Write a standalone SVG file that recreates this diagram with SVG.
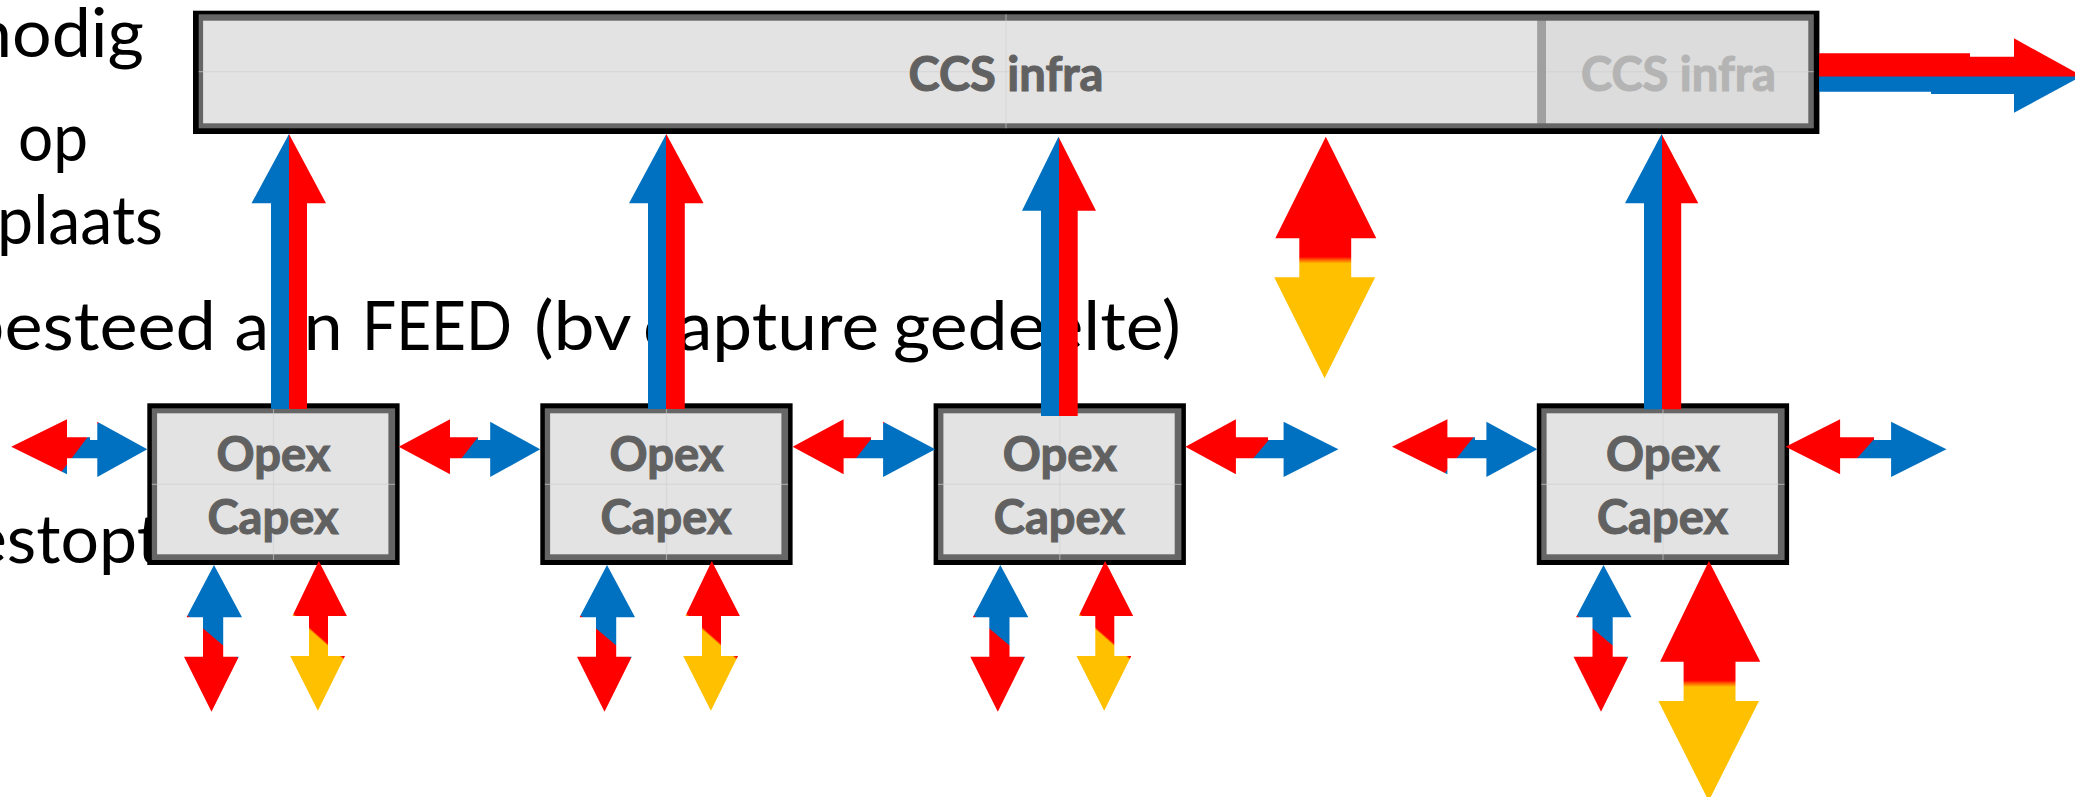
<svg xmlns="http://www.w3.org/2000/svg" xmlns:xlink="http://www.w3.org/1999/xlink" width="2075" height="797" viewBox="0 0 2075 797">
<style>
.body{font-family:Lato,"Open Sans","Liberation Sans",sans-serif;font-size:67px;fill:#000}
.lbl{font-family:Lato,"Open Sans","Liberation Sans",sans-serif;font-size:47px;font-weight:700;fill:#616161;stroke:#616161;stroke-width:1.1;text-anchor:middle}
.lbl2{fill:#b4b4b4;stroke:#b4b4b4}
.blk{fill:#000}
.gry{fill:#666}
.fil{fill:#e3e3e3}
.grid{stroke:#d0d0d0;stroke-opacity:.55;stroke-width:1.2;fill:none}
</style>
<defs>
<linearGradient id="gBR" x1="0" y1="0" x2="1" y2="0">
<stop offset="0.5" stop-color="#0070C0"/><stop offset="0.5" stop-color="#FF0000"/>
</linearGradient>
<linearGradient id="gRY" x1="0" y1="0" x2="0" y2="1">
<stop offset="0.497" stop-color="#FF0000"/><stop offset="0.51" stop-color="#FF6000"/><stop offset="0.525" stop-color="#FFC000"/>
</linearGradient>
<linearGradient id="gH" x1="0.478" y1="0.493" x2="0.522" y2="0.507">
<stop offset="0.4" stop-color="#FF0000"/><stop offset="0.6" stop-color="#0070C0"/>
</linearGradient>
<linearGradient id="gVL" x1="0.493" y1="0.511" x2="0.507" y2="0.469">
<stop offset="0.4" stop-color="#FF0000"/><stop offset="0.6" stop-color="#0070C0"/>
</linearGradient>
<linearGradient id="gVR" x1="0.493" y1="0.526" x2="0.507" y2="0.484">
<stop offset="0.3" stop-color="#FFC000"/><stop offset="0.7" stop-color="#FF0000"/>
</linearGradient>
<polygon id="vL" points="-59.5,565 -31.5,617.3 -50.3,617.3 -50.3,656.7 -34.7,656.7 -62,711.7 -89.5,656.7 -70.5,656.7 -70.5,617.3 -87,617.3"/>
<polygon id="vR" points="45.3,561 73.4,616 54.5,616 54.5,656 71.5,656 44.4,710.7 16.7,656 35.5,656 35.5,616 18.9,616"/>
</defs>

<g id="text">
<text class="body" x="-27" y="57" textLength="171" lengthAdjust="spacingAndGlyphs">nodig</text>
<text class="body" x="18" y="161" textLength="70" lengthAdjust="spacingAndGlyphs">op</text>
<text class="body" x="-3" y="244" textLength="166" lengthAdjust="spacingAndGlyphs">plaats</text>
<text class="body" y="350"><tspan x="-36" textLength="252" lengthAdjust="spacingAndGlyphs">besteed</tspan> <tspan x="234.5" textLength="108" lengthAdjust="spacingAndGlyphs">aan</tspan> <tspan x="362" textLength="150" lengthAdjust="spacingAndGlyphs">FEED</tspan> <tspan x="534" textLength="96" lengthAdjust="spacingAndGlyphs">(bv</tspan> <tspan x="643" textLength="236" lengthAdjust="spacingAndGlyphs">capture</tspan> <tspan x="893" textLength="288" lengthAdjust="spacingAndGlyphs">gedeelte)</tspan></text>
<text class="body" x="-29" y="563" textLength="190" lengthAdjust="spacingAndGlyphs">estopt</text>
</g>

<g id="ccs-infra">
<rect class="blk" x="193" y="10.7" width="1626.4" height="123.3"/>
<rect class="gry" x="198.7" y="14.3" width="1615.1" height="114"/>
<rect class="fil" x="203.1" y="20.7" width="1334.5" height="102.6"/>
<line class="grid" x1="198.7" y1="71.7" x2="1537.6" y2="71.7"/>
<line class="grid" x1="1006" y1="14.3" x2="1006" y2="128.3"/>
<text class="lbl" x="1006" y="90.5" textLength="195" lengthAdjust="spacingAndGlyphs">CCS infra</text>
</g>

<g id="ccs-infra-ext">
<rect x="1546" y="20.7" width="262.3" height="102.6" fill="#dcdcdc"/>
<rect x="1537.6" y="20.7" width="8.4" height="102.6" fill="#a0a0a0"/>
<line class="grid" x1="1546" y1="71.7" x2="1813.8" y2="71.7"/>
<text class="lbl lbl2" x="1678.5" y="90.5" textLength="195" lengthAdjust="spacingAndGlyphs">CCS infra</text>
</g>

<g id="node-1">
<rect class="blk" x="147.3" y="403.3" width="252.3" height="161.7"/>
<rect class="gry" x="151.8" y="408.3" width="243.3" height="151.7"/>
<rect class="fil" x="157.1" y="413.3" width="231.3" height="141"/>
<line class="grid" x1="151.8" y1="484.3" x2="395.1" y2="484.3"/>
<line class="grid" x1="273.5" y1="408.3" x2="273.5" y2="560"/>
<text class="lbl" x="273.5" y="470.5" textLength="114" lengthAdjust="spacingAndGlyphs">Opex</text>
<text class="lbl" x="273" y="534" textLength="131" lengthAdjust="spacingAndGlyphs">Capex</text>
</g>

<g id="node-2">
<rect class="blk" x="540.3" y="403.3" width="252.3" height="161.7"/>
<rect class="gry" x="544.8" y="408.3" width="243.3" height="151.7"/>
<rect class="fil" x="550.1" y="413.3" width="231.3" height="141"/>
<line class="grid" x1="544.8" y1="484.3" x2="788.1" y2="484.3"/>
<line class="grid" x1="666.5" y1="408.3" x2="666.5" y2="560"/>
<text class="lbl" x="666.5" y="470.5" textLength="114" lengthAdjust="spacingAndGlyphs">Opex</text>
<text class="lbl" x="666" y="534" textLength="131" lengthAdjust="spacingAndGlyphs">Capex</text>
</g>

<g id="node-3">
<rect class="blk" x="933.6" y="403.3" width="252.3" height="161.7"/>
<rect class="gry" x="938.1" y="408.3" width="243.3" height="151.7"/>
<rect class="fil" x="943.4" y="413.3" width="231.3" height="141"/>
<line class="grid" x1="938.1" y1="484.3" x2="1181.4" y2="484.3"/>
<line class="grid" x1="1059.8" y1="408.3" x2="1059.8" y2="560"/>
<text class="lbl" x="1059.8" y="470.5" textLength="114" lengthAdjust="spacingAndGlyphs">Opex</text>
<text class="lbl" x="1059.3" y="534" textLength="131" lengthAdjust="spacingAndGlyphs">Capex</text>
</g>

<g id="node-4">
<rect class="blk" x="1536.8" y="403.3" width="252.3" height="161.7"/>
<rect class="gry" x="1541.3" y="408.3" width="243.3" height="151.7"/>
<rect class="fil" x="1546.6" y="413.3" width="231.3" height="141"/>
<line class="grid" x1="1541.3" y1="484.3" x2="1784.6" y2="484.3"/>
<line class="grid" x1="1663" y1="408.3" x2="1663" y2="560"/>
<text class="lbl" x="1663" y="470.5" textLength="114" lengthAdjust="spacingAndGlyphs">Opex</text>
<text class="lbl" x="1662.5" y="534" textLength="131" lengthAdjust="spacingAndGlyphs">Capex</text>
</g>

<g id="connectors">
<polygon fill="url(#gBR)" points="289,134 326,203.3 307,203.3 307,409 271,409 271,203.3 251.5,203.3"/>
<polygon fill="url(#gBR)" points="666.3,134 703.6,203.3 684.8,203.3 684.8,409 648,409 648,203.3 629,203.3"/>
<polygon fill="url(#gBR)" points="1058.5,136.7 1096,210.7 1077.7,210.7 1077.7,416 1041,416 1041,210.7 1022,210.7"/>
<polygon fill="url(#gBR)" points="1661.6,134 1698.3,203.3 1681.2,203.3 1681.2,409.3 1644,409.3 1644,203.3 1625,203.3"/>
<g id="exit-arrow">
<polygon fill="#0070C0" points="1819,76 2082,76 2014,112.7 2014,94 1931,94 1931,91.7 1819,91.7"/>
<polygon fill="#FF0000" points="1819,53.3 1970,53.3 1970,56.7 2014,56.7 2014,38.3 2082,76 2081,76.6 1819,76.6"/>
</g>
<polygon fill="url(#gRY)" points="1325.8,136.7 1376.3,238.3 1351.2,238.3 1351.2,277.3 1375.2,277.3 1324.6,378.3 1274.2,277.3 1299.3,277.3 1299.3,238.3 1275.3,238.3"/>
<polygon fill="url(#gH)" points="11.2,446.7 67,419.3 67,437.3 90,437.3 90,440 97.3,440 97.3,421.7 147.3,449.3 97.3,477 97.3,458.3 67,458.3 67,474.3"/>
<polygon fill="url(#gH)" points="398.7,446.7 450,419.3 450,437.3 478,437.3 478,440 490.2,440 490.2,421.7 540.2,449.3 490.2,477 490.2,458.3 450,458.3 450,474.3"/>
<polygon fill="url(#gH)" points="792.6,446.7 843.6,419.3 843.6,437.3 871,437.3 871,440 883.1,440 883.1,421.7 935.3,449.3 883.1,477 883.1,458.3 843.6,458.3 843.6,474.3"/>
<polygon fill="url(#gH)" points="1185.4,446.7 1235.9,419.3 1235.9,437.3 1268,437.3 1268,440 1283.6,440 1283.6,421.7 1338.4,449.3 1283.6,477 1283.6,458.3 1235.9,458.3 1235.9,474.3"/>
<polygon fill="url(#gH)" points="1392,446.7 1447.4,419.3 1447.4,437.3 1475,437.3 1475,440 1486.4,440 1486.4,421.7 1537.4,449.3 1486.4,477 1486.4,458.3 1447.4,458.3 1447.4,474.3"/>
<polygon fill="url(#gH)" points="1785.6,446.7 1840.1,419.3 1840.1,437.3 1874,437.3 1874,440 1891.1,440 1891.1,421.7 1946.5,449.3 1891.1,477 1891.1,458.3 1840.1,458.3 1840.1,474.3"/>
<use xlink:href="#vL" href="#vL" x="273.5" fill="url(#gVL)"/>
<use xlink:href="#vR" href="#vR" x="273.5" fill="url(#gVR)"/>
<use xlink:href="#vL" href="#vL" x="666.5" fill="url(#gVL)"/>
<use xlink:href="#vR" href="#vR" x="666.5" fill="url(#gVR)"/>
<use xlink:href="#vL" href="#vL" x="1059.8" fill="url(#gVL)"/>
<use xlink:href="#vR" href="#vR" x="1059.8" fill="url(#gVR)"/>
<use xlink:href="#vL" href="#vL" x="1663" fill="url(#gVL)"/>
<polygon fill="url(#gRY)" points="1708.9,561 1760.3,661.7 1735.5,661.7 1735.5,701 1759,701 1708.7,801 1658.4,701 1683.6,701 1683.6,661.7 1660.1,661.7"/>
</g>
</svg>
